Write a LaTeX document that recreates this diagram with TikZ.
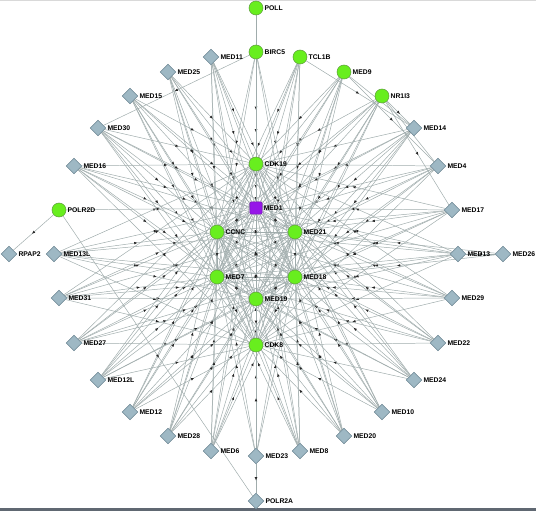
\documentclass[tikz,border=0pt]{standalone}
\usepackage{fontspec}
\setmainfont{Liberation Sans}
\usepackage{tikz}
\usetikzlibrary{shapes.geometric,decorations.markings,backgrounds}

\definecolor{hubgreen}{RGB}{104,238,30}
\definecolor{hubline}{RGB}{90,150,60}
\definecolor{medfill}{RGB}{158,184,196}
\definecolor{medline}{RGB}{110,135,148}
\definecolor{centerpurple}{RGB}{150,22,232}
\definecolor{edgegray}{RGB}{160,172,172}
\definecolor{framegray}{RGB}{96,104,114}

\tikzset{
  namelabel/.style={font=\fontsize{5.8}{6}\selectfont\bfseries, inner sep=1pt},
  hub/.style={circle, fill=hubgreen, draw=hubline, line width=0.4pt, minimum size=12pt, inner sep=0pt, label={[namelabel]right:#1}},
  med/.style={diamond, fill=medfill, draw=medline, line width=0.4pt, minimum size=13.5pt, inner sep=0pt, label={[namelabel]right:#1}},
  center/.style={rectangle, rounded corners=1pt, fill=centerpurple, draw=centerpurple!70!black, line width=0.4pt, minimum size=10.5pt, inner sep=0pt, label={[namelabel]right:#1}},
  link/.style={draw=edgegray, line width=0.42pt, postaction={decorate},
    decoration={markings, mark=at position 0.5 with {\fill[black!85] (1.5pt,0) -- (-1.1pt,1.1pt) -- (-1.1pt,-1.1pt) -- cycle;}}},
}

\begin{document}
\begin{tikzpicture}[x=0.03cm, y=-0.03cm]
	\useasboundingbox (0,0) rectangle (536,511);
	\draw[black!15, line width=0.8pt] (0,0.5) -- (536,0.5);
	\fill[framegray] (0,508) rectangle (536,511);

	% green genes on top
	\node[hub=POLL] (poll) at (256, 8) {};
	\node[hub=BIRC5] (birc5) at (256, 52) {};
	\node[hub=TCL1B] (tcl1b) at (300, 57) {};
	\node[hub=MED9] (med9) at (344, 72) {};
	\node[hub=NR1I3] (nr1i3) at (382, 96) {};
	\node[hub=POLR2D] (polr2d) at (59, 210) {};

	% core
	\node[hub=CDK19] (cdk19) at (256, 164) {};
	\node[center=MED1] (med1) at (256, 208) {};
	\node[hub=CCNC] (ccnc) at (217, 232) {};
	\node[hub=MED21] (med21) at (295, 232) {};
	\node[hub=MED7] (med7) at (217, 277) {};
	\node[hub=MED18] (med18) at (295, 277) {};
	\node[hub=MED19] (med19) at (256, 299) {};
	\node[hub=CDK8] (cdk8) at (256, 345) {};

	% ring of mediator subunits
	\node[med=MED11] (med11) at (211, 57) {};
	\node[med=MED25] (med25) at (168, 72) {};
	\node[med=MED15] (med15) at (130, 96) {};
	\node[med=MED30] (med30) at (98, 128) {};
	\node[med=MED14] (med14) at (414, 128) {};
	\node[med=MED16] (med16) at (74, 166) {};
	\node[med=MED4] (med4) at (438, 166) {};
	\node[med=MED17] (med17) at (452, 210) {};
	\node[med=RPAP2] (rpap2) at (9, 254) {};
	\node[med=MED13L] (med13l) at (54, 254) {};
	\node[med=MED13] (med13) at (458, 254) {};
	\node[med=MED26] (med26) at (503, 254) {};
	\node[med=MED31] (med31) at (59, 298) {};
	\node[med=MED29] (med29) at (452, 298) {};
	\node[med=MED27] (med27) at (74, 343) {};
	\node[med=MED22] (med22) at (438, 343) {};
	\node[med=MED12L] (med12l) at (98, 380) {};
	\node[med=MED24] (med24) at (414, 380) {};
	\node[med=MED12] (med12) at (130, 412) {};
	\node[med=MED10] (med10) at (382, 412) {};
	\node[med=MED28] (med28) at (168, 436) {};
	\node[med=MED20] (med20) at (344, 436) {};
	\node[med=MED6] (med6) at (211, 451) {};
	\node[med=MED8] (med8) at (300, 451) {};
	\node[med=MED23] (med23) at (256, 456) {};
	\node[med=POLR2A] (polr2a) at (256, 501) {};

	\begin{scope}[on background layer]
		% every subunit to every core gene
		\foreach \o in {med11,med25,med15,med30,med14,med16,med4,med17,med13l,med13,med31,med29,med27,med22,med12l,med24,med12,med10,med28,med20,med6,med8,med23}
			\foreach \c in {cdk19,med1,ccnc,med21,med7,med18,med19,cdk8}
				\draw[link] (\o) -- (\c);
		% green genes to the core
		\foreach \g in {birc5,tcl1b,med9,nr1i3}
			\foreach \c in {cdk19,med1,ccnc,med21,med7,med18,med19,cdk8}
				\draw[link] (\g) -- (\c);
		% inside the core
		\foreach \a/\b in {cdk19/med1,cdk19/ccnc,cdk19/med21,cdk19/med7,cdk19/med18,cdk19/med19,cdk19/cdk8,
			med1/ccnc,med1/med21,med1/med7,med1/med18,med1/med19,med1/cdk8,
			ccnc/med21,ccnc/med7,ccnc/med18,ccnc/med19,ccnc/cdk8,
			med21/med7,med21/med18,med21/med19,med21/cdk8,
			med7/med18,med7/med19,med7/cdk8,med18/med19,med18/cdk8,med19/cdk8}
			\draw[link] (\a) -- (\b);
		% the rest
		\draw [-, draw=edgegray, line width=0.42pt] (poll) to (birc5);
		\draw[link] (birc5) -- (med30);
		\draw[link] (tcl1b) -- (med14);
		\draw[link] (med9) -- (med14);
		\draw[link] (med9) -- (med4);
		\draw[link] (nr1i3) -- (med14);
		\draw[link] (nr1i3) -- (med4);
		\draw[link] (nr1i3) -- (med17);
		\draw[link] (polr2d) -- (rpap2);
		\draw[link] (polr2d) -- (med1);
		\draw[link] (polr2d) -- (polr2a);
		\draw[link] (med26) -- (med13);
		\draw[link] (med26) -- (med21);
		\draw[link] (med26) -- (med18);
		\draw[link] (med23) -- (polr2a);
	\end{scope}
\end{tikzpicture}
\end{document}
